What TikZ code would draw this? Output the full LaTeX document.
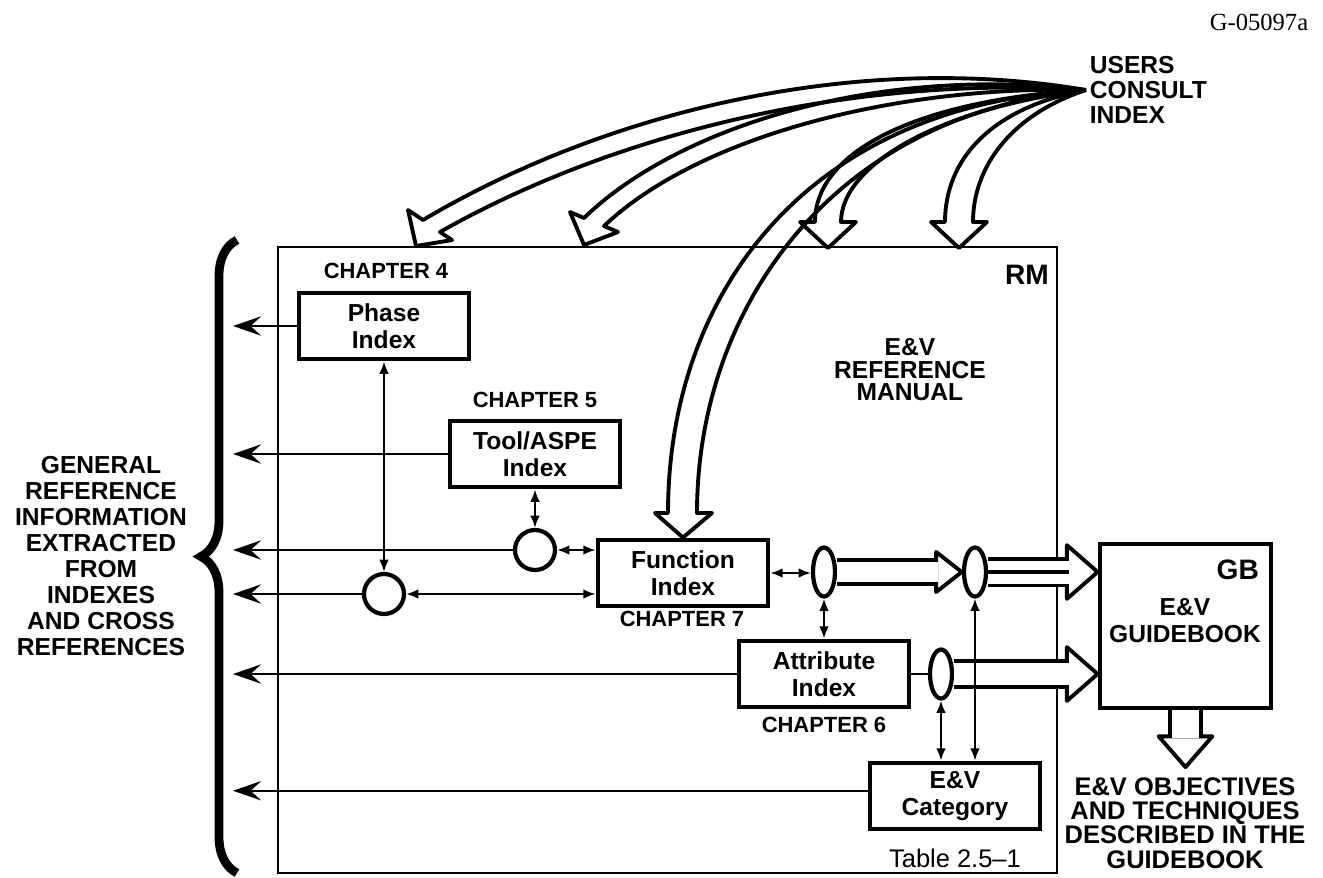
\documentclass[tikz,border=0pt]{standalone}
\usepackage{fontspec}
\setmainfont{Liberation Sans}
\newfontfamily\serifid{Liberation Serif}
\usepackage{tikz}
\usetikzlibrary{positioning,arrows.meta,shapes.geometric,decorations.pathreplacing,decorations.markings,calc}

\begin{document}
\begin{tikzpicture}[
  x=0.02cm, y=-0.02cm, >=Latex,
  font=\bfseries\fontsize{14}{15}\selectfont,
  box/.style={draw, line width=2.8pt, align=center, minimum width=3.4cm, minimum height=1.32cm, inner sep=2pt, font=\bfseries\fontsize{14}{15.4}\selectfont},
  chap/.style={font=\bfseries\fontsize{12.5}{13}\selectfont, inner sep=1pt},
  lbl/.style={align=center, inner sep=2pt},
  joint/.style={draw, circle, line width=2.4pt, minimum size=0.8cm, inner sep=0pt},
  oval/.style={draw, ellipse, line width=2.4pt, minimum width=0.44cm, minimum height=0.98cm, inner sep=0pt},
  outarrow/.style={line width=1.4pt, -{Stealth[length=16pt, width=11pt, inset=6pt]}},
  link/.style={line width=1.2pt, {Latex[length=7pt, width=5.5pt]}-{Latex[length=7pt, width=5.5pt]}},
  fatline/.style={line width=2.2pt, line join=round},
  fat/.style n args={3}{line width=2.2pt, double=white, double distance=#1,
    preaction={decorate, decoration={markings, mark=at position 1 with
      {\draw[line width=2.2pt, line join=round, fill=white] (-1pt,#2) -- (#3,0pt) -- (-1pt,-#2) -- cycle;}}}}]
  \useasboundingbox (0,0) rectangle (1323,877);

  % frames
  \node[draw, line width=1.2pt, minimum width=15.58cm, minimum height=12.52cm, inner sep=0pt] (rm) at (667.5,560) {};
  \node[draw, line width=2.4pt, minimum width=3.43cm, minimum height=3.28cm, inner sep=0pt] (gb) at (1185.5,626) {};

  % texts
  \node[font=\serifid\fontsize{14}{15}\selectfont] (code) at (1259,22) {G-05097a};
  \node[lbl, anchor=west, align=left, font=\bfseries\fontsize{14}{14.2}\selectfont] (users) at (1086,90) {USERS\\CONSULT\\INDEX};
  \node[lbl, font=\bfseries\fontsize{14}{14.8}\selectfont] (info) at (101,556) {GENERAL\\REFERENCE\\INFORMATION\\EXTRACTED\\FROM\\INDEXES\\AND CROSS\\REFERENCES};
  \node[lbl, font=\bfseries\fontsize{14}{12.8}\selectfont] (rmname) at (910,370) {E\&V\\REFERENCE\\MANUAL};
  \node[anchor=east, font=\bfseries\fontsize{16}{16}\selectfont] (rmtag) at (1055,275) {RM};
  \node[anchor=east, font=\bfseries\fontsize{16}{16}\selectfont] (gbtag) at (1265,570) {GB};
  \node[lbl, font=\bfseries\fontsize{14}{15.4}\selectfont] (gbname) at (1185,621) {E\&V\\GUIDEBOOK};
  \node[lbl, font=\bfseries\fontsize{14.5}{13.8}\selectfont] (goal) at (1185,823) {E\&V OBJECTIVES\\AND TECHNIQUES\\DESCRIBED IN THE\\GUIDEBOOK};

  % indexes
  \node[box] (phase) at (384,326) {Phase\\Index};
  \node[chap] (ch4) at (386,271) {CHAPTER 4};
  \node[box] (tool) at (535,454) {Tool/ASPE\\Index};
  \node[chap] (ch5) at (535,400) {CHAPTER 5};
  \node[box] (func) at (683,573) {Function\\Index};
  \node[chap] (ch7) at (682,619) {CHAPTER 7};
  \node[box] (attr) at (824,674) {Attribute\\Index};
  \node[chap] (ch6) at (824,725) {CHAPTER 6};
  \node[box] (cat) at (955,796) {E\&V\\Category};
  \node[font=\mdseries\fontsize{14.5}{15}\selectfont] (tab) at (955,858) {Table 2.5--1};

  % junctions
  \node[joint] (c1) at (535,550) {};
  \node[joint] (c2) at (384,594) {};
  \node[oval] (ea) at (824,572) {};
  \node[oval] (eb) at (975,572) {};
  \node[oval] (ec) at (941,674) {};

  % brace and outputs
  \draw[decorate, decoration={brace, amplitude=0.72cm}, line width=5pt] (237,873) -- (237,240);
  \coordinate (lft) at (233,0);
  \coordinate (catout) at ([yshift=3pt]cat.west);
  \draw[outarrow] (phase.west) -- (phase.west -| lft);
  \draw[outarrow] (tool.west) -- (tool.west -| lft);
  \draw[outarrow] (c1.west) -- (c1.west -| lft);
  \draw[outarrow] (c2.west) -- (c2.west -| lft);
  \draw[outarrow] (attr.west) -- (attr.west -| lft);
  \draw[outarrow] (catout) -- (catout -| lft);

  % flows to the guidebook
  \draw[fat={11.4pt}{11.4pt}{13.6pt}] (ea.east) -- ($(eb.west)+(-24,0)$);
  \draw[fat={13.1pt}{15.3pt}{16.5pt}] (eb.east) -- ($(gb.west |- eb.east)+(-29,0)$);
  \draw[line width=2.2pt] (eb.east) -- ($(gb.west |- eb.east)+(-29,0)$);
  \draw[fat={12.6pt}{15.3pt}{16.5pt}] (ec.east) -- ($(gb.west |- ec.east)+(-29,0)$);
  \draw[fat={15pt}{15.3pt}{16.5pt}] (gb.south) -- ($(gb.south)+(0,28)$);

  % cross references
  \draw[link] (phase.south) -- (c2.north);
  \draw[link] (tool.south) -- (c1.north);
  \draw[link] (c1.east) -- (c1.east -| func.west);
  \draw[link] (c2.east) -- (c2.east -| func.west);
  \draw[link] (func.east) -- (func.east -| ea.west);
  \draw[link] (ea.south) -- (attr.north);
  \draw[link] (ec.south) -- (ec.south |- cat.north);
  \draw[link] (eb.south) -- (eb.south |- cat.north);
  \draw[line width=1.4pt] (attr.east) -- (ec.west);

  % users consult index
  \draw[fatline] (users.west) .. controls (850,50) and (600,115) .. (423,220) -- (408,210) -- (416,246) -- (452,240) -- (440,232) .. controls (620,130) and (860,75) .. (users.west);
  \draw[fatline] (users.west) .. controls (880,65) and (680,125) .. (584,218) -- (570,212) -- (584,245) -- (618,232) -- (604,226) .. controls (700,135) and (900,85) .. (users.west);
  \draw[fatline] (users.west) .. controls (920,100) and (815,150) .. (815,222) -- (800,222) -- (828,248) -- (856,222) -- (841,222) .. controls (841,165) and (940,108) .. (users.west);
  \draw[fatline] (users.west) .. controls (990,108) and (945,160) .. (945,222) -- (931,222) -- (959,248) -- (987,222) -- (973,222) .. controls (973,168) and (1010,115) .. (users.west);
  \draw[fatline] (users.west) .. controls (800,105) and (668,300) .. (668,513) -- (655,513) -- (func.north) -- (712,513) -- (697,513) .. controls (697,310) and (830,115) .. (users.west);
\end{tikzpicture}
\end{document}
